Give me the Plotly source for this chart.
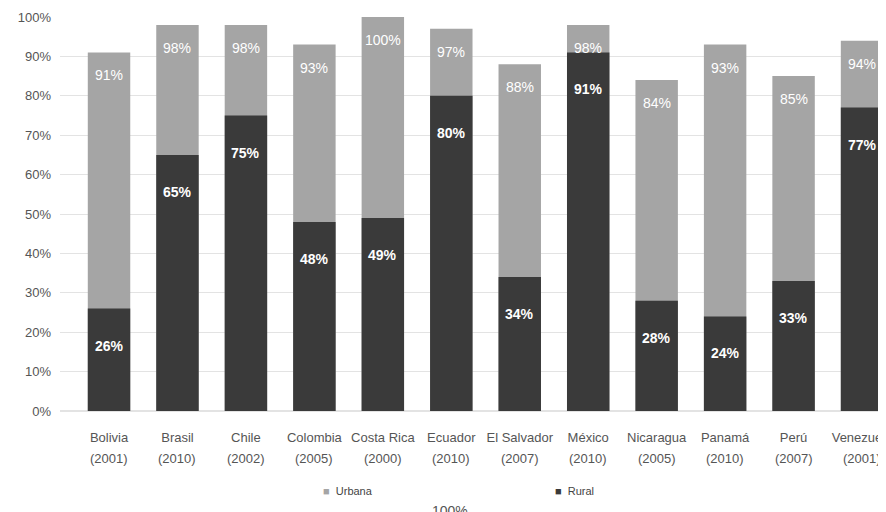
import plotly.graph_objects as go

countries = ["Bolivia", "Brasil", "Chile", "Colombia", "Costa Rica", "Ecuador",
             "El Salvador", "México", "Nicaragua", "Panamá", "Perú", "Venezuela"]
years = ["(2001)", "(2010)", "(2002)", "(2005)", "(2000)", "(2010)",
         "(2007)", "(2010)", "(2005)", "(2010)", "(2007)", "(2001)"]
urbana = [91, 98, 98, 93, 100, 97, 88, 98, 84, 93, 85, 94]
rural = [26, 65, 75, 48, 49, 80, 34, 91, 28, 24, 33, 77]
y_ticks = [0, 10, 20, 30, 40, 50, 60, 70, 80, 90, 100]

FONT = "Liberation Sans, Arial, sans-serif"
C_URB = "#a5a5a5"
C_RUR = "#3a3a3a"
TXT = "#555555"

pos = list(range(len(countries)))

fig = go.Figure()
fig.add_trace(go.Bar(x=pos, y=urbana, name="Urbana", marker=dict(color=C_URB, line=dict(width=0)),
                     width=0.62, showlegend=False, hoverinfo="skip"))
fig.add_trace(go.Bar(x=pos, y=rural, name="Rural", marker=dict(color=C_RUR, line=dict(width=0)),
                     width=0.62, showlegend=False, hoverinfo="skip"))

annotations = []
for p, u, r, yr in zip(pos, urbana, rural, years):
    annotations.append(dict(x=p, y=u, xref="x", yref="y", text=f"{u}%", showarrow=False,
                            yanchor="top", yshift=-13, font=dict(family=FONT, size=14, color="white")))
    annotations.append(dict(x=p, y=r, xref="x", yref="y", text=f"<b>{r}%</b>", showarrow=False,
                            yanchor="top", yshift=-27, font=dict(family=FONT, size=14, color="white")))
    annotations.append(dict(x=p, y=(411 - 459) / 394, xref="x", yref="paper", text=yr, showarrow=False,
                            yanchor="middle", font=dict(family=FONT, size=13, color=TXT)))

# legend drawn as text
annotations.append(dict(x=(321 - 60) / 826, y=(411 - 491) / 394, xref="paper", yref="paper",
                        xanchor="left", yanchor="middle", showarrow=False,
                        text=f"<span style='color:{C_URB}'>■</span>  Urbana",
                        font=dict(family=FONT, size=11, color="#444444")))
annotations.append(dict(x=(553 - 60) / 826, y=(411 - 491) / 394, xref="paper", yref="paper",
                        xanchor="left", yanchor="middle", showarrow=False,
                        text=f"<span style='color:{C_RUR}'>■</span>  Rural",
                        font=dict(family=FONT, size=11, color="#444444")))
annotations.append(dict(x=(450 - 60) / 826, y=(411 - 501) / 394, xref="paper", yref="paper",
                        xanchor="center", yanchor="top", showarrow=False, text="100%",
                        font=dict(family=FONT, size=14, color=TXT)))

fig.update_layout(
    width=878, height=504,
    margin=dict(l=52, r=0, t=9, b=101),
    barmode="overlay",
    plot_bgcolor="white", paper_bgcolor="white",
    font=dict(family=FONT, size=13, color=TXT),
    annotations=annotations,
    xaxis=dict(range=[-0.716, 11.35], tickvals=pos, ticktext=countries, tickangle=0,
               showgrid=False, showline=False, zeroline=False, automargin=False,
               ticklabeloverflow="allow",
               ticks="", ticklabelstandoff=17, tickfont=dict(family=FONT, size=13, color=TXT)),
    yaxis=dict(range=[0, 100], tickvals=y_ticks, ticktext=[f"{v}%" for v in y_ticks],
               showgrid=True, gridcolor="#e3e3e3", gridwidth=1, zeroline=True, zerolinecolor="#e3e3e3",
               automargin=False,
               ticks="", ticklabelstandoff=8, tickfont=dict(family=FONT, size=13, color=TXT)),
)

fig.write_html("out.html")
